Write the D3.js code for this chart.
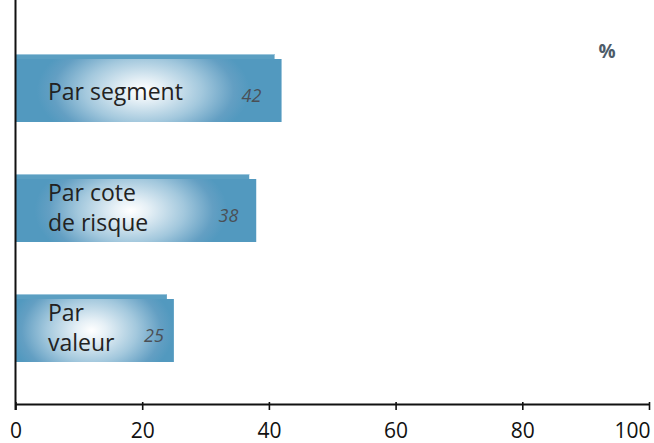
<!DOCTYPE html>
<html><head><meta charset="utf-8">
<script src="https://cdn.jsdelivr.net/npm/d3@7"></script>
<style>
html,body{margin:0;padding:0;background:#fff;}
svg{display:block;}
text{font-family:"Open Sans",sans-serif;}
</style></head>
<body>
<svg id="chart" width="654" height="443"></svg>
<script>
const categories = [["Par segment"], ["Par cote", "de risque"], ["Par", "valeur"]];
const values = [42, 38, 25];
const ticks = [0, 20, 40, 60, 80, 100];
const unitLabel = "%";

const svg = d3.select("#chart");
const x = d3.scaleLinear().domain([0, 100]).range([15.5, 649]);
const y = d3.scaleBand().domain(d3.range(values.length)).range([30.5, 390.5]).paddingInner(0.475).paddingOuter(0.2375);
const barH = y.bandwidth();
const barTop = i => y(i);

const defs = svg.append("defs");
values.forEach((v, i) => {
  const x0 = x(0), x1 = x(v), w = x1 - x0;
  const cx = x0 + w * 0.48, cy = barTop(i) + barH / 2;
  const rx = Math.max(82, w * 0.4), ry = 58;
  const g = defs.append("radialGradient")
    .attr("id", "grad" + i)
    .attr("gradientUnits", "userSpaceOnUse")
    .attr("cx", 0).attr("cy", 0).attr("r", rx)
    .attr("gradientTransform", `translate(${cx},${cy}) scale(1,${ry / rx})`);
  g.append("stop").attr("offset", 0).attr("stop-color", "#ffffff");
  g.append("stop").attr("offset", 0.18).attr("stop-color", "#e6f0f6");
  g.append("stop").attr("offset", 0.55).attr("stop-color", "#a3c8dd");
  g.append("stop").attr("offset", 0.85).attr("stop-color", "#639fc3");
  g.append("stop").attr("offset", 1).attr("stop-color", "#5299bf");
});

// back strips
svg.selectAll("rect.back").data(values).join("rect")
  .attr("class", "back")
  .attr("x", x(0)).attr("y", (d, i) => barTop(i) - 5)
  .attr("width", d => x(d) - x(0) - 7).attr("height", barH)
  .attr("fill", "#5b9fc2");
svg.selectAll("line.backtop").data(values).join("line")
  .attr("class", "backtop")
  .attr("x1", x(0)).attr("x2", d => x(d) - 7)
  .attr("y1", (d, i) => barTop(i) - 4.5).attr("y2", (d, i) => barTop(i) - 4.5)
  .attr("stroke", "#9cc6dc").attr("stroke-width", 1);

// front bars
svg.selectAll("rect.front").data(values).join("rect")
  .attr("class", "front")
  .attr("x", x(0)).attr("y", (d, i) => barTop(i))
  .attr("width", d => x(d) - x(0)).attr("height", barH)
  .attr("fill", (d, i) => `url(#grad${i})`);

// category labels
categories.forEach((lines, i) => {
  const mid = barTop(i) + barH / 2;
  const t = svg.append("text").attr("font-size", 23).attr("fill", "#222");
  lines.forEach((ln, j) => {
    const base = mid + 9.5 - (lines.length - 1) * 19.5 + j * 30;
    t.append("tspan").attr("x", 48).attr("y", base).text(ln);
  });
});

// value labels
svg.selectAll("text.val").data(values).join("text")
  .attr("class", "val")
  .attr("x", d => x(d) - (10 + (d - 25) * 0.6))
  .attr("y", (d, i) => barTop(i) + barH / 2 + 11.5)
  .attr("text-anchor", "end")
  .attr("font-size", 18).attr("font-style", "italic")
  .attr("fill", "#4a4f55")
  .text(d => d);

// axes
const axis = d3.axisBottom(x).tickValues(ticks).tickSize(6).tickSizeOuter(0).tickPadding(13);
const ax = svg.append("g").attr("transform", "translate(0,404)").call(axis);
ax.select(".domain").attr("stroke", "#111").attr("stroke-width", 2.2);
ax.selectAll(".tick line").attr("stroke", "#111").attr("stroke-width", 1.6).attr("y1", -2);
ax.selectAll(".tick text").attr("font-size", 21).attr("fill", "#111")
  .attr("font-family", "'Open Sans',sans-serif")
  .attr("text-anchor", d => d === 100 ? "end" : "middle")
  .attr("dx", d => d === 100 ? "0.05em" : 0);

svg.append("line").attr("x1", x(0)).attr("x2", x(0)).attr("y1", 0).attr("y2", 410)
  .attr("stroke", "#111").attr("stroke-width", 2);

svg.append("text").attr("x", 607).attr("y", 58).attr("text-anchor", "middle")
  .attr("font-size", 19).attr("font-weight", "bold").attr("fill", "#4d5b69").text(unitLabel);
</script>
</body></html>
